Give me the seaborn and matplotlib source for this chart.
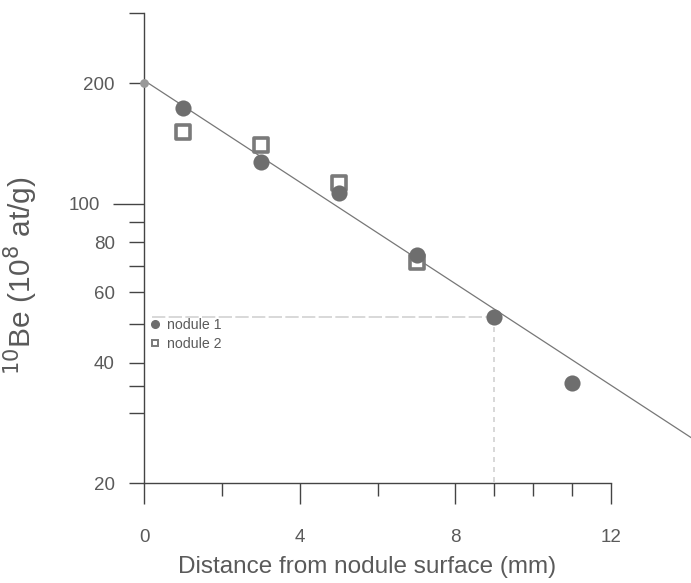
import numpy as np
import pandas as pd
import matplotlib
matplotlib.use('Agg')
import matplotlib.pyplot as plt
import matplotlib.transforms as mtrans
import seaborn as sns
from matplotlib.lines import Line2D

# data
dist_n1 = [0, 1, 3, 5, 7, 9, 11]
be_n1 = [200, 174, 127, 106.5, 74.4, 51.9, 35.6]
dist_n2 = [1, 3, 5, 7]
be_n2 = [151.5, 140.6, 112.5, 71.6]
fit_x = [0, 14.1]
fit_y = [203.5, 25.8]
guide_x = [0.2, 9]
guide_y = [51.9, 20]
ytick_vals = [20, 40, 60, 80, 100, 200]
ytick_minor = [30, 35, 50, 70, 90, 300]
xtick_vals = [0, 4, 8, 12]
xtick_minor = [2, 6, 9, 10, 11]

sns.set_style('white')
plt.rcParams['font.family'] = ['Liberation Sans', 'DejaVu Sans']

fig = plt.figure(figsize=(6.91, 5.83), dpi=100)
ax = fig.add_axes([144 / 691, 1 - 483 / 583, 1 - 144 / 691, (483 - 13) / 583])

txt = '#5a5a5a'
mark = '#6e6e6e'
axc = '#444444'

# guide lines to the 9 mm point
ax.plot([guide_x[0], guide_x[1]], [guide_y[0], guide_y[0]], color='#d2d2d2', lw=1.2, ls=(0, (8, 2)), zorder=1)
ax.plot([guide_x[1], guide_x[1]], [guide_y[0], guide_y[1]], color='#d2d2d2', lw=1.2, ls=(0, (3, 3)), zorder=1)

fit_df = pd.DataFrame({'x': fit_x, 'y': fit_y})
sns.lineplot(data=fit_df, x='x', y='y', ax=ax, color='#777777', lw=0.9, zorder=2)

n1 = pd.DataFrame({'x': dist_n1, 'y': be_n1})
n2 = pd.DataFrame({'x': dist_n2, 'y': be_n2})
sns.scatterplot(data=n2, x='x', y='y', ax=ax, marker='s', s=115, facecolor='white',
                edgecolor='#7a7a7a', linewidth=2.6, zorder=3)
sns.scatterplot(data=n1.iloc[1:], x='x', y='y', ax=ax, marker='o', s=135, color=mark,
                edgecolor=mark, linewidth=0, zorder=4)
sns.scatterplot(data=n1.iloc[:1], x='x', y='y', ax=ax, marker='o', s=40, color='#999999',
                edgecolor='#999999', linewidth=0, zorder=4, clip_on=False)

ax.set_yscale('log')
ax.set_ylim(20, 300)
ax.set_xlim(0, 14.05)

ax.set_yticks(ytick_vals)
ax.set_yticklabels([str(v) for v in ytick_vals])
ax.set_yticks(ytick_minor, minor=True)
ax.yaxis.set_minor_formatter(plt.NullFormatter())
ax.set_xticks(xtick_vals)
ax.set_xticklabels([str(v) for v in xtick_vals])
ax.set_xticks(xtick_minor, minor=True)

for s in ['top', 'right']:
    ax.spines[s].set_visible(False)
for s in ['left', 'bottom']:
    ax.spines[s].set_color(axc)
    ax.spines[s].set_linewidth(1.0)
ax.spines['left'].set_bounds(20, 300)
ax.spines['bottom'].set_bounds(0, 12)

ax.tick_params(axis='y', which='both', direction='out', length=11, width=1, color=axc,
               labelsize=13.5, labelcolor=txt, pad=10, left=True)
ax.tick_params(axis='x', which='major', direction='out', length=15, width=1, color=axc,
               labelsize=13.5, labelcolor=txt, pad=18, bottom=True)
ax.tick_params(axis='x', which='minor', direction='out', length=9, width=1, color=axc, bottom=True)

# the 100 tick is longer, its label sits further left
for t in ax.yaxis.get_major_ticks():
    if t.get_loc() == 100:
        t.tick1line.set_markersize(22)
        t.label1.set_transform(t.label1.get_transform() +
                               mtrans.ScaledTranslation(-15 / 100, 0, fig.dpi_scale_trans))
# crossing marks for the 9 and 11 mm samples and the 35 level
for t in ax.xaxis.get_minor_ticks():
    if t.get_loc() in (9, 11):
        t.tick1line.set_marker('|')
        t.tick1line.set_markersize(14)
for t in ax.yaxis.get_minor_ticks():
    if t.get_loc() == 35:
        t.tick1line.set_marker('_')
        t.tick1line.set_markersize(14)

ax.set_xlabel('Distance from nodule surface (mm)', fontsize=17.5, color=txt, labelpad=1)
ax.xaxis.set_label_coords(6 / 14.05 - 0.02, -0.155)
ax.set_ylabel('$^{10}$Be (10$^{8}$ at/g)', fontsize=21.5, color=txt)
ax.yaxis.set_label_coords(-(144 - 40) / 547, 0.44)

handles = [Line2D([], [], marker='o', ls='', color=mark, markersize=5.5),
           Line2D([], [], marker='s', ls='', markerfacecolor='white', markeredgecolor='#7a7a7a',
                  markeredgewidth=1.4, markersize=5)]
ax.legend(handles, ['nodule 1', 'nodule 2'], loc='upper left', bbox_to_anchor=(-0.005, 0.37),
          frameon=False, fontsize=10.2, labelcolor=txt, handlelength=0.8, handletextpad=0.4,
          labelspacing=0.35, borderaxespad=0.2)

fig.savefig('out.png', dpi=100)
